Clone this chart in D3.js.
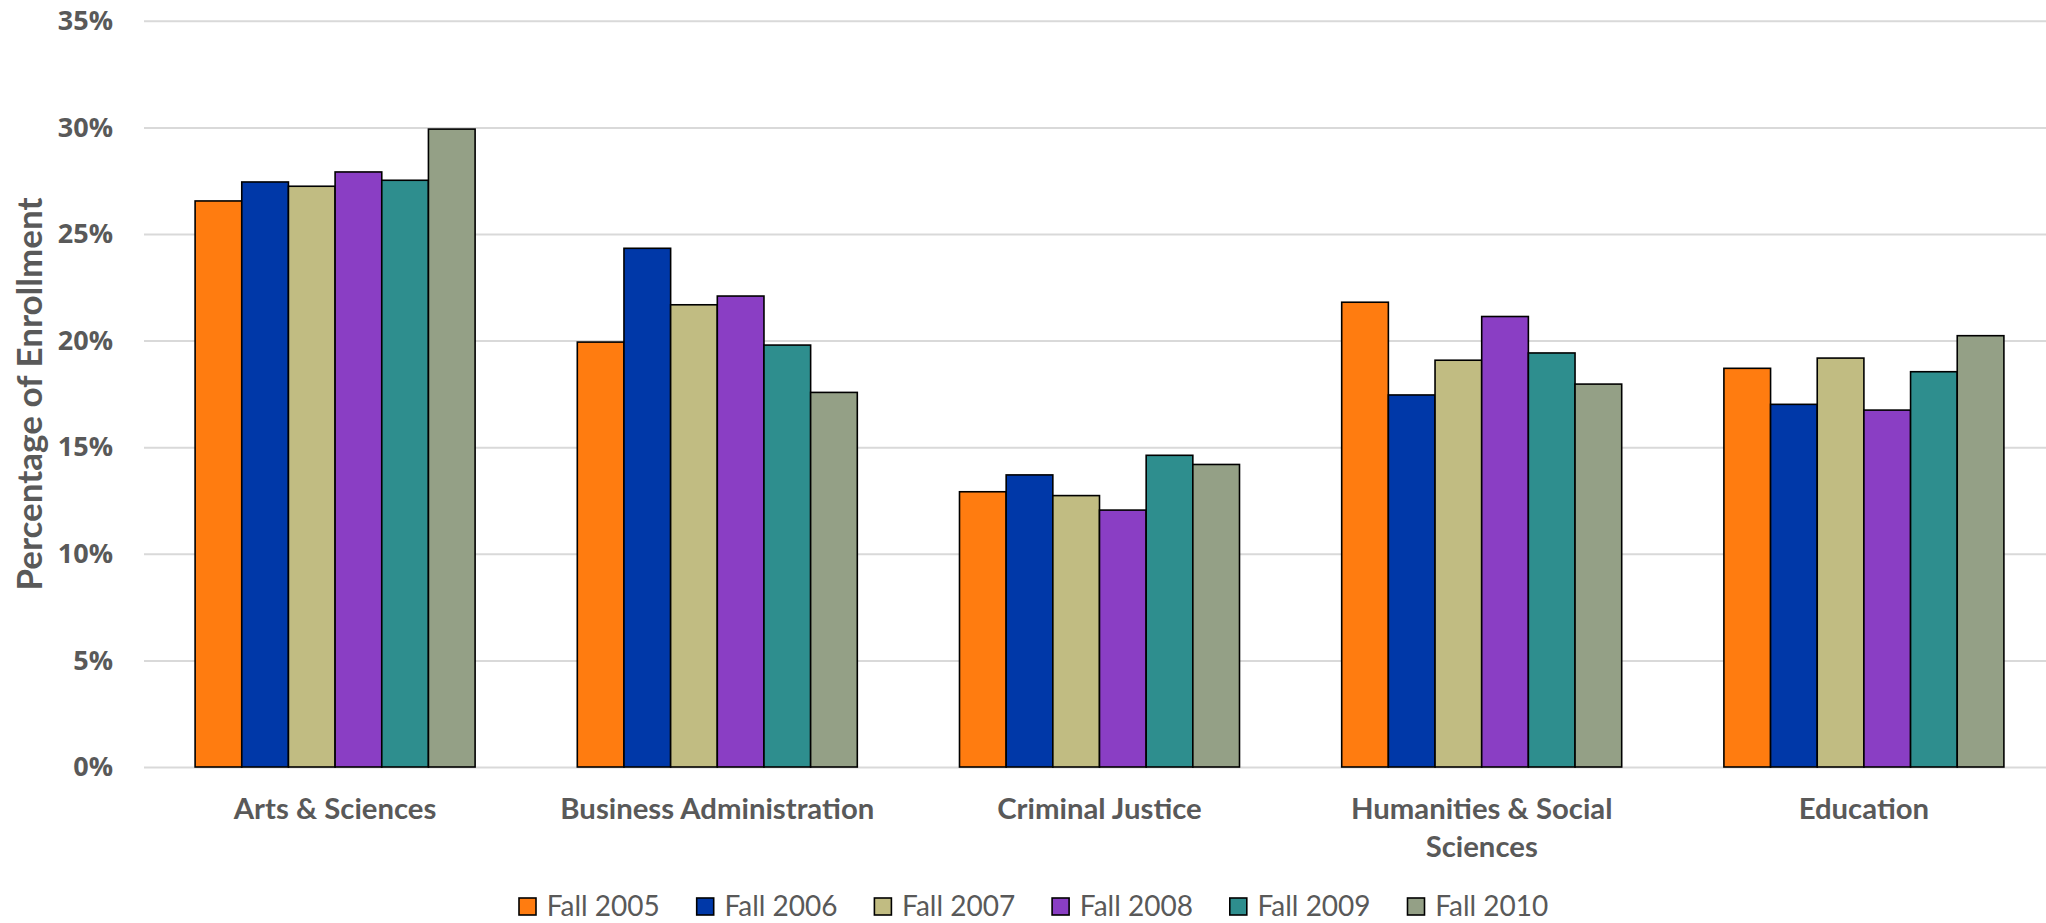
<!DOCTYPE html>
<html>
<head>
<meta charset="utf-8">
<script src="https://cdn.jsdelivr.net/npm/d3@7"></script>
<style>
  html, body { margin: 0; padding: 0; background: #ffffff; }
  svg { display: block; }
</style>
</head>
<body>
<svg id="chart" width="2046" height="923"></svg>
<script>
// Share of total enrollment by college, fall terms 2005–2010
const categories = [
  ["Arts & Sciences"],
  ["Business Administration"],
  ["Criminal Justice"],
  ["Humanities & Social", "Sciences"],
  ["Education"]
];
const seriesNames = ["Fall 2005", "Fall 2006", "Fall 2007", "Fall 2008", "Fall 2009", "Fall 2010"];
const seriesColors = ["#FF7C10", "#0038A8", "#C1BC82", "#8A3EC4", "#2E8E8E", "#94A086"];

const fall2005 = [26.55, 19.93, 12.91, 21.80, 18.70];
const fall2006 = [27.44, 24.33, 13.70, 17.45, 17.01];
const fall2007 = [27.24, 21.68, 12.73, 19.08, 19.18];
const fall2008 = [27.91, 22.09, 12.05, 21.13, 16.74];
const fall2009 = [27.52, 19.79, 14.62, 19.42, 18.54];
const fall2010 = [29.92, 17.57, 14.19, 17.96, 20.23];
const seriesValues = [fall2005, fall2006, fall2007, fall2008, fall2009, fall2010];

const yTicks = [0, 5, 10, 15, 20, 25, 30, 35];
const yTitle = "Percentage of Enrollment";

const textGray = "#595959";
const svg = d3.select("#chart");

const plot = { left: 144, right: 2055, top: 20.8, bottom: 767 };

const catKeys = categories.map(c => c.join(" "));
const x0 = d3.scaleBand()
  .domain(catKeys)
  .range([plot.left, plot.right])
  .paddingInner(0.2674)
  .paddingOuter(0.1337);

const x1 = d3.scaleBand()
  .domain(seriesNames)
  .range([0, x0.bandwidth()])
  .padding(0);

const y = d3.scaleLinear()
  .domain([0, 35])
  .range([plot.bottom, plot.top]);

// Horizontal gridlines with percentage labels
const yAxis = d3.axisLeft(y)
  .tickValues(yTicks)
  .tickFormat(d => d + "%")
  .tickSize(-(plot.right - plot.left))
  .tickPadding(31);

const yG = svg.append("g")
  .attr("transform", `translate(${plot.left},0)`)
  .call(yAxis);
yG.select(".domain").remove();
yG.selectAll(".tick line")
  .attr("stroke", "#d9d9d9")
  .attr("stroke-width", 2);
yG.selectAll(".tick text")
  .attr("fill", textGray)
  .attr("font-family", "'Open Sans', sans-serif")
  .attr("font-weight", "bold")
  .attr("font-size", 27);

// Bars
const rows = [];
catKeys.forEach((cat, ci) => {
  seriesNames.forEach((s, si) => {
    rows.push({ cat, series: s, value: seriesValues[si][ci], color: seriesColors[si] });
  });
});

svg.append("g")
  .selectAll("rect")
  .data(rows)
  .join("rect")
  .attr("x", d => x0(d.cat) + x1(d.series))
  .attr("y", d => y(d.value))
  .attr("width", x1.bandwidth())
  .attr("height", d => y(0) - y(d.value))
  .attr("fill", d => d.color)
  .attr("stroke", "#000")
  .attr("stroke-width", 1.6);

// Category labels
const xAxis = d3.axisBottom(x0).tickSize(0).tickFormat("");
const xG = svg.append("g")
  .attr("transform", `translate(0,${plot.bottom})`)
  .call(xAxis);
xG.select(".domain").remove();

const catLabel = svg.append("g")
  .selectAll("text")
  .data(categories)
  .join("text")
  .attr("x", (d, i) => x0(catKeys[i]) + x0.bandwidth() / 2)
  .attr("y", 819)
  .attr("text-anchor", "middle")
  .attr("fill", textGray)
  .attr("font-family", "Lato, 'Open Sans', sans-serif")
  .attr("font-weight", "bold")
  .attr("font-size", 29.3);
catLabel.selectAll("tspan")
  .data(d => d)
  .join("tspan")
  .attr("x", function () { return d3.select(this.parentNode).attr("x"); })
  .attr("dy", (d, i) => i === 0 ? 0 : 38)
  .text(d => d);

// Y axis title
svg.append("text")
  .attr("transform", "translate(42,394) rotate(-90)")
  .attr("text-anchor", "middle")
  .attr("fill", textGray)
  .attr("font-family", "Lato, 'Open Sans', sans-serif")
  .attr("font-weight", "bold")
  .attr("font-size", 35)
  .text(yTitle);

// Legend
const legendX = d3.scalePoint()
  .domain(seriesNames)
  .range([519, 519 + 177.7 * (seriesNames.length - 1)]);

const legend = svg.append("g")
  .selectAll("g")
  .data(seriesNames)
  .join("g")
  .attr("transform", d => `translate(${legendX(d)},898)`);

legend.append("rect")
  .attr("width", 17)
  .attr("height", 17)
  .attr("fill", (d, i) => seriesColors[i])
  .attr("stroke", "#000")
  .attr("stroke-width", 1.6);

legend.append("text")
  .attr("x", 27.7)
  .attr("y", 17.5)
  .attr("fill", textGray)
  .attr("font-family", "Lato, 'Open Sans', sans-serif")
  .attr("font-size", 28)
  .text(d => d);
</script>
</body>
</html>
